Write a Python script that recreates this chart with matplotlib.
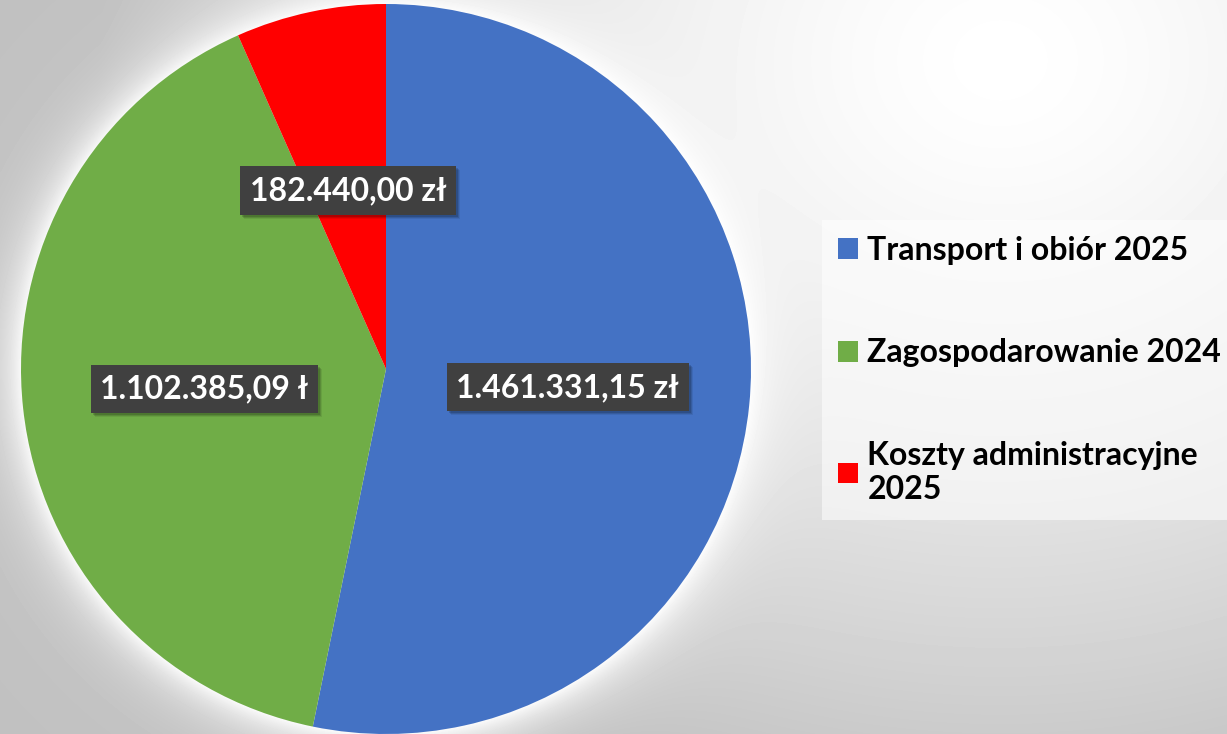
import numpy as np
import matplotlib
matplotlib.use("Agg")
import matplotlib.pyplot as plt
from matplotlib.patches import Patch
import matplotlib.transforms as mtrans

# dane
kategorie = ["Transport i obiór 2025", "Zagospodarowanie 2024", "Koszty administracyjne\n2025"]
wartosci = [1461331.15, 1102385.09, 182440.00]
etykiety = ["1.461.331,15 zł", "1.102.385,09 ł", "182.440,00 zł"]
kolory = ["#4472C4", "#70AD47", "#FF0000"]

W, H = 1227, 734
fig = plt.figure(figsize=(W / 100, H / 100), dpi=100)

# tlo - szary gradient z biala poswiata wokol kola
yy, xx = np.mgrid[0:H, 0:W]
odl = np.hypot(xx - 1000, (yy - 60) / 0.85)
tlo = 255 - 62 * np.clip(odl / 900, 0, 1) ** 1.4
d = np.hypot(xx - 386, yy - 369) - 365
glow = np.where(d > 0, np.exp(-d / 24.0), 1.0)
tlo = tlo + (255 - tlo) * glow * 0.9
bg = fig.add_axes([0, 0, 1, 1])
bg.imshow(tlo, cmap="gray", vmin=0, vmax=255, aspect="auto", interpolation="bilinear")
bg.axis("off")

ax = fig.add_axes([21 / W, 0, 730 / W, 730 / H])
it = iter(etykiety)
wedges, _, auto = ax.pie(wartosci, colors=kolory, startangle=90, counterclock=False,
                         autopct=lambda p: next(it), pctdistance=0.5,
                         wedgeprops=dict(linewidth=0))
ax.set_xlim(-1, 1)
ax.set_ylim(-1, 1)
ax.set_aspect("equal")

for t in auto:
    t.set_fontfamily("Lato")
    t.set_fontweight("bold")
    t.set_fontsize(23)
    t.set_color("white")
    t.set_bbox(dict(boxstyle="square,pad=0.3", facecolor="#404040", edgecolor="none"))
    # cien pod ramka
    x, y = t.get_position()
    for k, a in [(4, 0.08), (3, 0.12), (2, 0.15)]:
        s = ax.text(x, y, t.get_text(), ha="center", va="center", fontsize=23,
                    fontfamily="Lato", fontweight="bold", color="none",
                    bbox=dict(boxstyle="square,pad=0.3", facecolor="black", alpha=a,
                              edgecolor="none"), zorder=t.get_zorder() - 0.5)
        s.set_transform(ax.transData + mtrans.ScaledTranslation(k / 100, -k / 100, fig.dpi_scale_trans))

uchwyty = [Patch(facecolor=c, edgecolor="none") for c in kolory]
leg = fig.legend(uchwyty, kategorie, loc="upper left", bbox_to_anchor=(822 / W, 1 - 220 / H),
                 prop={"family": "Lato", "weight": "bold", "size": 23},
                 frameon=True, fancybox=False, framealpha=0.55, facecolor="white",
                 edgecolor="none", handlelength=0.62, handleheight=0.62,
                 handletextpad=0.3, labelspacing=2.3, borderpad=0.5, borderaxespad=0)

fig.savefig("out.png", dpi=100)
